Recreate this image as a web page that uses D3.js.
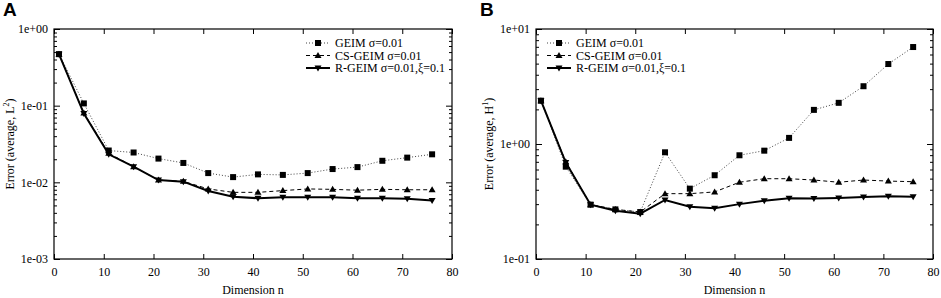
<!DOCTYPE html>
<html>
<head>
<meta charset="utf-8">
<script src="https://cdn.jsdelivr.net/npm/d3@7"></script>
<style>
  body { margin: 0; background: #fff; }
  svg { display: block; }
  text { font-family: "Liberation Serif", "Times New Roman", serif; fill: #000; }
</style>
</head>
<body>
<div id="chart"></div>
<script>
// Dimension n, sampled every 5 from 1
const dims = [1, 6, 11, 16, 21, 26, 31, 36, 41, 46, 51, 56, 61, 66, 71, 76];

// Panel A: average L2 error
const geimL2 = [0.47, 0.107, 0.026, 0.0245, 0.0204, 0.0179, 0.0132, 0.0117, 0.0127, 0.0125, 0.0132, 0.0149, 0.0158, 0.0191, 0.0210, 0.0232];
const csGeimL2 = [0.47, 0.080, 0.024, 0.0160, 0.0107, 0.0103, 0.0082, 0.0074, 0.0074, 0.0078, 0.0082, 0.0081, 0.0079, 0.0081, 0.0080, 0.0080];
const rGeimL2 = [0.47, 0.079, 0.0232, 0.0160, 0.0107, 0.0102, 0.0077, 0.0065, 0.0062, 0.0064, 0.0064, 0.0064, 0.0062, 0.0062, 0.0061, 0.0058];

// Panel B: average H1 error
const geimH1 = [2.38, 0.635, 0.297, 0.270, 0.256, 0.847, 0.409, 0.535, 0.798, 0.875, 1.13, 1.98, 2.28, 3.18, 4.96, 6.97];
const csGeimH1 = [2.38, 0.70, 0.297, 0.270, 0.256, 0.370, 0.370, 0.383, 0.465, 0.499, 0.499, 0.486, 0.465, 0.486, 0.476, 0.470];
const rGeimH1 = [2.38, 0.69, 0.297, 0.263, 0.248, 0.326, 0.285, 0.276, 0.300, 0.321, 0.337, 0.335, 0.339, 0.346, 0.351, 0.348];

const seriesNames = ["GEIM σ=0.01", "CS-GEIM σ=0.01", "R-GEIM σ=0.01,ξ=0.1"];
const xTicks = [0, 10, 20, 30, 40, 50, 60, 70, 80];
const yTicksA = [1e-3, 1e-2, 1e-1, 1];
const yTicksB = [1e-1, 1, 10];

const svg = d3.select("#chart").append("svg")
    .attr("width", 941)
    .attr("height", 298);

// line styles for the three series
const styles = [
    {stroke: "#444", width: 1, dash: "1,2", marker: "square"},
    {stroke: "#000", width: 1, dash: "4,3", marker: "up"},
    {stroke: "#000", width: 2, dash: null, marker: "down"}
];

function fmtLog(d) {
    let e = Math.round(Math.log10(d));
    return "1e" + (e < 0 ? "-" : "+") + String(Math.abs(e)).padStart(2, "0");
}

function minorTicks(ticks) {
    let out = [];
    for (let i = 0; i < ticks.length - 1; i++) {
        for (let k = 2; k <= 9; k++) out.push(ticks[i] * k);
    }
    return out;
}

function drawMarker(g, type, cx, cy) {
    if (type === "square") {
        g.append("rect")
            .attr("x", cx - 3).attr("y", cy - 3)
            .attr("width", 6).attr("height", 6)
            .attr("fill", "#000");
    } else if (type === "up") {
        g.append("path")
            .attr("d", `M${cx},${cy - 3.5}L${cx + 3.5},${cy + 2.5}L${cx - 3.5},${cy + 2.5}Z`)
            .attr("fill", "#000");
    } else {
        g.append("path")
            .attr("d", `M${cx},${cy + 3.5}L${cx + 3.5},${cy - 2.5}L${cx - 3.5},${cy - 2.5}Z`)
            .attr("fill", "#000");
    }
}

function drawPanel(p) {
    let g = svg.append("g").attr("transform", "translate(" + p.left + "," + p.top + ")");
    let width = p.width, height = p.height;

    let x = d3.scaleLinear().domain([0, 80]).range([0, width]);
    let y = d3.scaleLog().domain(p.yDomain).range([height, 0]);

    // Bottom and top axes (ticks pointing inward)
    let bottom = g.append("g")
        .attr("transform", "translate(0," + height + ")")
        .call(d3.axisBottom(x).tickValues(xTicks).tickSizeInner(-5).tickSizeOuter(0).tickPadding(8));
    bottom.selectAll("text").style("font-size", "12px").style("font-family", "Liberation Serif");

    g.append("g")
        .call(d3.axisTop(x).tickValues(xTicks).tickSizeInner(-5).tickSizeOuter(0).tickFormat(""));

    // Left axis with labels
    let left = g.append("g")
        .call(d3.axisLeft(y).tickValues(p.yTicks).tickFormat(fmtLog).tickSizeInner(-6).tickSizeOuter(0).tickPadding(6));
    left.selectAll("text").style("font-size", "12px").style("font-family", "Liberation Serif");

    g.append("g")
        .call(d3.axisLeft(y).tickValues(minorTicks(p.yTicks)).tickFormat("").tickSizeInner(-3).tickSizeOuter(0));

    // Right axis
    g.append("g")
        .attr("transform", "translate(" + width + ",0)")
        .call(d3.axisRight(y).tickValues(p.yTicks).tickFormat("").tickSizeInner(-6).tickSizeOuter(0));
    g.append("g")
        .attr("transform", "translate(" + width + ",0)")
        .call(d3.axisRight(y).tickValues(minorTicks(p.yTicks)).tickFormat("").tickSizeInner(-3).tickSizeOuter(0));

    g.selectAll(".domain").remove();
    g.selectAll(".tick line").attr("stroke", "#000");

    // Frame
    g.append("rect")
        .attr("width", width)
        .attr("height", height)
        .attr("fill", "none")
        .attr("stroke", "#000")
        .attr("stroke-width", 1.2);

    // Series
    let line = d3.line()
        .x((d, i) => x(dims[i]))
        .y(d => y(d));

    p.series.forEach(function (vals, s) {
        let st = styles[s];
        g.append("path")
            .datum(vals)
            .attr("fill", "none")
            .attr("stroke", st.stroke)
            .attr("stroke-width", st.width)
            .attr("stroke-dasharray", st.dash)
            .attr("d", line);
    });
    p.series.forEach(function (vals, s) {
        let mg = g.append("g");
        vals.forEach((v, i) => drawMarker(mg, styles[s].marker, x(dims[i]), y(v)));
    });

    // Legend
    let legend = g.append("g")
        .attr("transform", "translate(" + p.legendX + "," + p.legendY + ")");
    seriesNames.forEach(function (name, s) {
        let st = styles[s];
        let item = legend.append("g").attr("transform", "translate(0," + s * 12.5 + ")");
        item.append("line")
            .attr("x1", 0).attr("x2", 24)
            .attr("y1", 0).attr("y2", 0)
            .attr("stroke", st.stroke)
            .attr("stroke-width", st.width)
            .attr("stroke-dasharray", st.dash);
        drawMarker(item, st.marker, 12, 0);
        item.append("text")
            .attr("x", 29)
            .attr("y", 4)
            .style("font-size", "12px")
            .text(name);
    });

    // Axis titles
    g.append("text")
        .attr("x", width / 2)
        .attr("y", height + 35)
        .attr("text-anchor", "middle")
        .style("font-size", "12px")
        .text("Dimension n");

    let yl = g.append("text")
        .attr("transform", "translate(" + p.yLabelX + "," + height / 2 + ") rotate(-90)")
        .attr("text-anchor", "middle")
        .style("font-size", "12px")
        .text("Error (average, " + p.norm);
    yl.append("tspan")
        .attr("dy", -5)
        .style("font-size", "8px")
        .text(p.sup);
    yl.append("tspan")
        .attr("dy", 5)
        .text(")");

    // Panel letter
    svg.append("text")
        .attr("x", p.letterX)
        .attr("y", 16)
        .style("font-family", "Liberation Sans, Arial, sans-serif")
        .style("font-weight", "bold")
        .style("font-size", "19px")
        .text(p.letter);
}

drawPanel({
    left: 54, top: 29, width: 398, height: 230,
    yDomain: [1e-3, 1], yTicks: yTicksA,
    series: [geimL2, csGeimL2, rGeimL2],
    legendX: 252, legendY: 14,
    norm: "L", sup: "2", yLabelX: -40,
    letter: "A", letterX: 3
});

drawPanel({
    left: 536, top: 29, width: 397, height: 230,
    yDomain: [1e-1, 10], yTicks: yTicksB,
    series: [geimH1, csGeimH1, rGeimH1],
    legendX: 11, legendY: 14,
    norm: "H", sup: "1", yLabelX: -43,
    letter: "B", letterX: 480
});
</script>
</body>
</html>
